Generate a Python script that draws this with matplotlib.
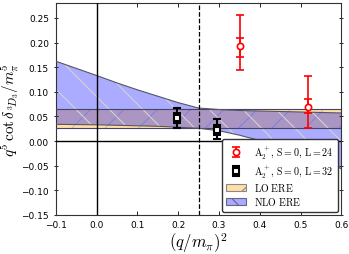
import matplotlib.pyplot as plt
import numpy as np

plt.rcParams['mathtext.fontset'] = 'cm'
plt.rcParams['hatch.linewidth'] = 0.8

# lattice points: (q/m_pi)^2, value, inner (stat) and outer (total) errors
x_l24 = [0.351, 0.519]
y_l24 = [0.192, 0.070]
stat_lo_l24 = [0.022, 0.014]
stat_hi_l24 = [0.017, 0.015]
tot_lo_l24 = [0.047, 0.043]
tot_hi_l24 = [0.064, 0.062]

x_l32 = [0.198, 0.296]
y_l32 = [0.047, 0.023]
stat_lo_l32 = [0.010, 0.010]
stat_hi_l32 = [0.010, 0.010]
tot_lo_l32 = [0.020, 0.019]
tot_hi_l32 = [0.020, 0.021]

# LO ERE band (constant)
lo_low = 0.027
lo_high = 0.066

# NLO ERE band boundaries
nlo_x = [-0.1, 0.0, 0.05, 0.1, 0.15, 0.2, 0.25, 0.3, 0.35, 0.4, 0.45, 0.5, 0.55, 0.6]
nlo_up = [0.162, 0.133, 0.118, 0.104, 0.091, 0.078, 0.067, 0.064, 0.062, 0.061, 0.060, 0.059, 0.058, 0.057]
nlo_dn = [0.034, 0.033, 0.032, 0.031, 0.030, 0.028, 0.026, 0.021, 0.012, 0.001, -0.012, -0.026, -0.040, -0.056]

fig = plt.figure(figsize=(3.49, 2.55), dpi=100)
ax = fig.add_axes([0.16, 0.153, 0.818, 0.831])

xx = np.array([-0.1, 0.6])
# LO band: opaque face, separate hatch layer
ax.fill_between(xx, lo_low, lo_high, facecolor='#ffdfa6', linewidth=0, zorder=1)
ax.fill_between(xx, lo_low, lo_high, facecolor='none', hatch='/',
                edgecolor='#c4c4c4', linewidth=0, zorder=1.1)
ax.plot(xx, [lo_low, lo_low], color='#444466', lw=0.8, zorder=3)
ax.plot(xx, [lo_high, lo_high], color='#444466', lw=0.8, zorder=3)

# NLO band: translucent blue face, separate hatch layer
ax.fill_between(nlo_x, nlo_dn, nlo_up, facecolor='blue', alpha=0.33,
                linewidth=0, zorder=2)
ax.fill_between(nlo_x, nlo_dn, nlo_up, facecolor='none', hatch='\\',
                edgecolor='#d2d2d2', linewidth=0, zorder=2.1)
ax.plot(nlo_x, nlo_up, color='#555566', lw=0.8, zorder=3)
ax.plot(nlo_x, nlo_dn, color='#555566', lw=0.8, zorder=3)

# legend proxies for the bands
lo_proxy = plt.Rectangle((0, 0), 1, 1, facecolor='#ffdfa6', hatch='/',
                         edgecolor='#888888', lw=0.8)
nlo_proxy = plt.Rectangle((0, 0), 1, 1, facecolor='#aaaaff', hatch='\\',
                          edgecolor='#666688', lw=0.8)

ax.axhline(0, color='black', lw=1.0, zorder=4)
ax.axvline(0, color='black', lw=1.0, zorder=4)
ax.axvline(0.25, color='black', lw=0.9, ls='--', zorder=4)

ax.errorbar(x_l24, y_l24, yerr=[tot_lo_l24, tot_hi_l24], fmt='none', ecolor='red',
            elinewidth=1.2, capsize=3, capthick=1.2, zorder=5)
e24 = ax.errorbar(x_l24, y_l24, yerr=[stat_lo_l24, stat_hi_l24], fmt='o', color='red',
                  mfc='white', mec='red', mew=1.2, ms=4.5, elinewidth=1.2, capsize=3,
                  capthick=1.2, zorder=6)

ax.errorbar(x_l32, y_l32, yerr=[tot_lo_l32, tot_hi_l32], fmt='none', ecolor='black',
            elinewidth=1.5, capsize=3, capthick=1.5, zorder=5)
e32 = ax.errorbar(x_l32, y_l32, yerr=[stat_lo_l32, stat_hi_l32], fmt='s', color='black',
                  mfc='white', mec='black', mew=1.5, ms=4.5, elinewidth=1.5, capsize=3,
                  capthick=1.5, zorder=6)

ax.set_xlim(-0.1, 0.6)
ax.set_ylim(-0.15, 0.28)
ax.set_xticks(np.arange(-0.1, 0.61, 0.1))
ax.set_yticks(np.arange(-0.15, 0.26, 0.05))
ax.tick_params(labelsize=6.5, direction='in', top=True, right=True, length=3, width=0.6)
ax.tick_params(axis='y', which='both', left=True, direction='inout')
for s in ax.spines.values():
    s.set_linewidth(0.8)
    s.set_color('#333333')

ax.set_xlabel(r'$(q/m_\pi)^2$', fontsize=12, labelpad=1)
ax.set_ylabel(r'$q^5\,\cot\delta_{\,^3\!D_3}/m_\pi^5$', fontsize=11, labelpad=0)

labels = [r'$\mathrm{A_2^+,\,S=0,\,L=24}$', r'$\mathrm{A_2^+,\,S=0,\,L=32}$',
          r'$\mathrm{LO\ ERE}$', r'$\mathrm{NLO\ ERE}$']
leg = ax.legend([e24, e32, lo_proxy, nlo_proxy], labels, loc='lower right',
                fontsize=7.2, framealpha=1, fancybox=True, edgecolor='#333333',
                borderaxespad=0.3, handlelength=2.0, labelspacing=0.22,
                borderpad=0.45)
leg.set_zorder(10)

fig.savefig('out.png', dpi=100)
